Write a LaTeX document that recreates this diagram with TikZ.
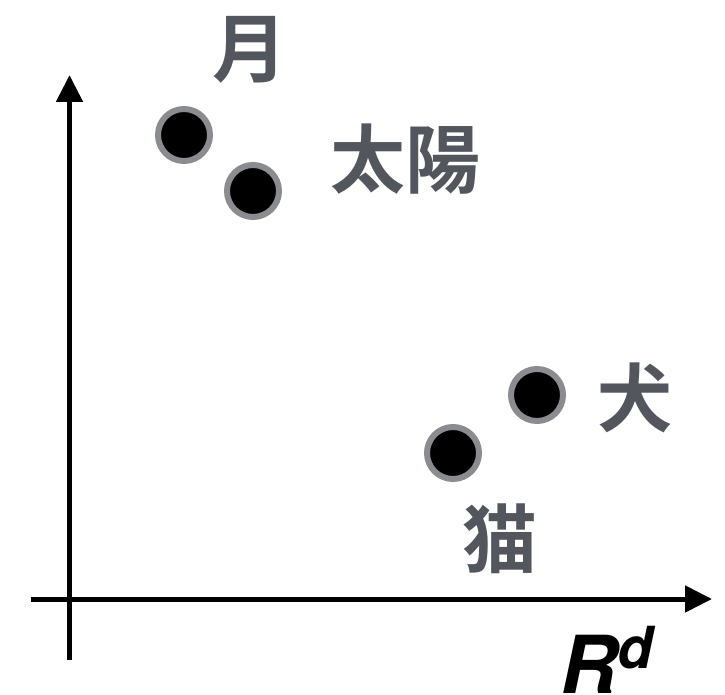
\documentclass[tikz,border=0pt]{standalone}
\usepackage{fontspec}
\usetikzlibrary{arrows.meta}
\newfontfamily\cjkfont{Noto Sans CJK JP}[BoldFont={* Bold}]
\newfontfamily\helvfont{TeX Gyre Heros}
\definecolor{labelgray}{HTML}{53565C}
\definecolor{ringgray}{HTML}{8A8C8F}
\tikzset{
  axisline/.style={line width=5pt, -{Triangle[length=27pt,width=26pt]}},
  dot/.style={circle, fill=black, draw=ringgray, line width=6pt, minimum size=52pt, inner sep=0pt},
  lbl/.style={inner sep=0pt, text=labelgray, font=\cjkfont\bfseries\fontsize{75}{75}\selectfont}
}
\begin{document}
\begin{tikzpicture}[x=1pt,y=-1pt]
\useasboundingbox (0,0) rectangle (725,695);
\coordinate (xs) at (31,599);
\coordinate (xe) at (712,599);
\coordinate (ys) at (69.5,660);
\coordinate (ye) at (69.5,75);
\draw[axisline] (xs) -- (xe);
\draw[axisline] (ys) -- (ye);
\node[dot] (moon) at (184,135) {};
\node[dot] (sun) at (253,191) {};
\node[dot] (dog) at (537,395) {};
\node[dot] (cat) at (453,453) {};
\node[lbl] (moonl) at (250,50) {月};
\node[lbl] (sunl) at (405,159) {太陽};
\node[lbl] (dogl) at (635,398) {犬};
\node[lbl] (catl) at (500,539) {猫};
\node[inner sep=0pt, anchor=base west, font=\helvfont\bfseries\itshape\fontsize{80}{80}\selectfont] (rd) at (560,693) {R\raisebox{25pt}{\fontsize{58}{58}\selectfont d}};
\end{tikzpicture}
\end{document}
